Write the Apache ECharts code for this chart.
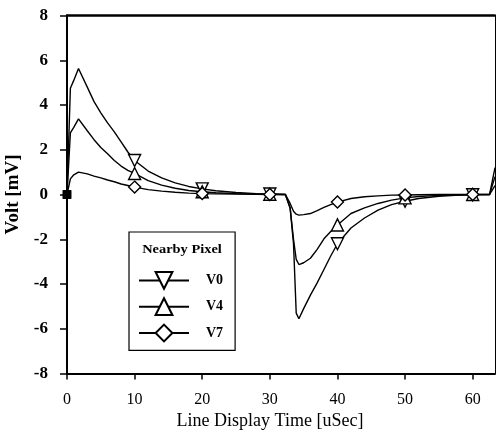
<!DOCTYPE html>
<html><head><meta charset="utf-8">
<script src="https://cdn.jsdelivr.net/npm/echarts@6/dist/echarts.min.js"></script>
<style>html,body{margin:0;padding:0;background:#fff}#c{width:496px;height:432px}</style>
</head><body><div id="c"></div>
<script>
// Line display time (uSec)
const time = [0, 0.5, 1, 1.7, 3, 4, 5, 6, 7, 8, 9, 10, 12, 14, 16, 18, 20, 22, 25, 28, 30,
  32.3, 33, 33.5, 33.9, 34.3, 35, 36, 37, 38, 39, 40, 42, 44, 46, 48, 50, 52, 55, 58, 60, 62.5, 63.3];
// Volt (mV)
const v0 = [0, 4.75, 5.1, 5.63, 4.8, 4.15, 3.65, 3.2, 2.8, 2.35, 1.9, 1.52, 1.05, 0.74, 0.52, 0.36, 0.25, 0.17, 0.09, 0.04, 0.02,
  0, -0.6, -2.2, -5.3, -5.55, -5.1, -4.5, -3.95, -3.35, -2.75, -2.2, -1.5, -1.05, -0.7, -0.45, -0.3, -0.18, -0.08, -0.03, -0.01, 0, 1.2];
const v4 = [0, 2.75, 3.0, 3.38, 2.85, 2.45, 2.1, 1.82, 1.52, 1.27, 1.08, 0.94, 0.62, 0.42, 0.28, 0.18, 0.12, 0.08, 0.04, 0.02, 0.01,
  0, -0.6, -2.0, -2.9, -3.13, -3.05, -2.85, -2.45, -1.98, -1.65, -1.36, -0.85, -0.6, -0.4, -0.25, -0.15, -0.09, -0.04, -0.02, 0, 0, 0.8];
const v7 = [0, 0.7, 0.88, 1.0, 0.92, 0.82, 0.74, 0.65, 0.57, 0.47, 0.4, 0.33, 0.22, 0.15, 0.1, 0.06, 0.04, 0.03, 0.02, 0.01, 0,
  0, -0.4, -0.75, -0.88, -0.92, -0.9, -0.85, -0.72, -0.58, -0.45, -0.34, -0.18, -0.1, -0.06, -0.03, -0.02, -0.01, 0, 0, 0, 0, 0.4];
const seriesNames = ['V0', 'V4', 'V7'];
const xTicks = [0, 10, 20, 30, 40, 50, 60];
const legendTitle = 'Nearby Pixel';
const xName = 'Line Display Time [uSec]';
const yName = 'Volt [mV]';

const serif = 'Liberation Serif, Times New Roman, serif';
function pts(vals) {
  return time.map((t, i) => t === 0
    ? { value: [t, vals[i]], symbol: 'rect', symbolSize: 7, itemStyle: { color: '#000' } }
    : [t, vals[i]]);
}
const markSize = (val) => (val[0] % 10 === 0 ? 12 : 0);
function mkSeries(name, vals, symbol, rot) {
  return {
    name, type: 'line', data: pts(vals), symbol, symbolRotate: rot, symbolSize: markSize,
    showSymbol: true, lineStyle: { color: '#000', width: 1.4 },
    itemStyle: { color: '#fff', borderColor: '#000', borderWidth: 1.4 },
    emphasis: { disabled: true }, clip: true
  };
}
const chart = echarts.init(document.getElementById('c'), null, { renderer: 'canvas' });
chart.setOption({
  animation: false,
  backgroundColor: '#fff',
  grid: { left: 67, right: 1, top: 15.5, bottom: 58.5, show: false, containLabel: false, outerBoundsMode: 'none' },
  xAxis: [{
    type: 'value', min: 0, max: 63.3, position: 'bottom',
    axisLine: { onZero: false, lineStyle: { color: '#000', width: 2 } },
    axisTick: { customValues: xTicks, length: 6, lineStyle: { color: '#000', width: 1.5 } },
    axisLabel: { customValues: xTicks, margin: 18, fontFamily: serif, fontSize: 16, color: '#000' },
    splitLine: { show: false },
    name: xName, nameLocation: 'middle', nameGap: 35,
    nameTextStyle: { fontFamily: serif, fontSize: 18, color: '#000', padding: [0, 22, 0, 0] }
  }, {
    type: 'value', min: 0, max: 63.3, position: 'top',
    axisLine: { show: true, onZero: false, lineStyle: { color: '#000', width: 2.5 } },
    axisTick: { show: false }, axisLabel: { show: false }, splitLine: { show: false }
  }],
  yAxis: [{
    type: 'value', min: -8, max: 8, interval: 2, position: 'left',
    axisLine: { onZero: false, lineStyle: { color: '#000', width: 2 } },
    axisTick: { length: 7, lineStyle: { color: '#000', width: 1.5 } },
    axisLabel: { margin: 19, fontFamily: serif, fontWeight: 'bold', fontSize: 17, color: '#000' },
    splitLine: { show: false },
    name: yName, nameLocation: 'middle', nameGap: 44,
    nameTextStyle: { fontFamily: serif, fontWeight: 'bold', fontSize: 19, color: '#000' }
  }, {
    type: 'value', min: -8, max: 8, position: 'right',
    axisLine: { show: true, onZero: false, lineStyle: { color: '#000', width: 1 } },
    axisTick: { show: false }, axisLabel: { show: false }, splitLine: { show: false }
  }],
  legend: {
    data: seriesNames, orient: 'vertical', left: 129, top: 232,
    padding: [39, 12, 8, 9], itemWidth: 50, itemHeight: 21, itemGap: 7.5,
    borderColor: '#000', borderWidth: 1.2, backgroundColor: '#fff', selectedMode: false,
    textStyle: { fontFamily: serif, fontWeight: 'bold', fontSize: 14, color: '#000', padding: [0, 0, 0, 12] }
  },
  graphic: [{
    type: 'text', x: 182, y: 250, z: 100, scaleX: 1.2,
    style: { text: legendTitle, fontFamily: serif, fontWeight: 'bold', fontSize: 12, fill: '#000', align: 'center', verticalAlign: 'middle' }
  }],
  series: [
    mkSeries(seriesNames[0], v0, 'triangle', 180),
    mkSeries(seriesNames[1], v4, 'triangle', 0),
    mkSeries(seriesNames[2], v7, 'diamond', 0)
  ]
});
</script></body></html>
